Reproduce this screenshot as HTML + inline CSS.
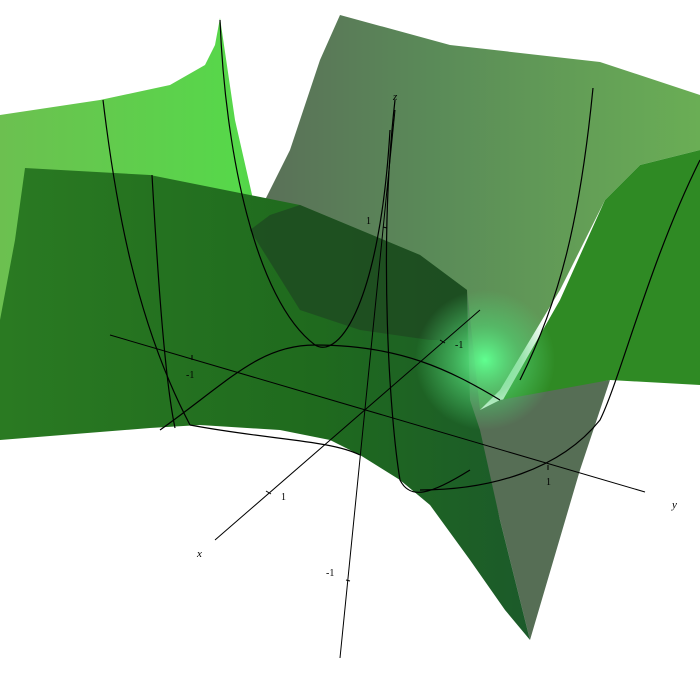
<!DOCTYPE html>
<html><head><meta charset="utf-8"><style>html,body{margin:0;padding:0;background:#fff}svg{display:block}</style></head>
<body>
<svg width="700" height="700" viewBox="0 0 700 700" style="font-family:'Liberation Serif',serif">
<defs>
<linearGradient id="gl" x1="0" y1="0" x2="1" y2="0"><stop offset="0" stop-color="#6cc050"/><stop offset="0.8" stop-color="#56d84a"/><stop offset="1" stop-color="#40c040"/></linearGradient>
<linearGradient id="gg" x1="0" y1="0" x2="1" y2="0"><stop offset="0" stop-color="#5a6e58"/><stop offset="0.4" stop-color="#5a8a58"/><stop offset="1" stop-color="#6aae55"/></linearGradient>
<linearGradient id="gf" x1="0" y1="0" x2="1" y2="0"><stop offset="0" stop-color="#2a7a22"/><stop offset="0.6" stop-color="#1f6a1e"/><stop offset="1" stop-color="#1c5a2a"/></linearGradient>
<radialGradient id="glow" cx="485" cy="360" r="70" gradientUnits="userSpaceOnUse"><stop offset="0" stop-color="#60ff90"/><stop offset="0.5" stop-color="#50d070" stop-opacity="0.6"/><stop offset="1" stop-color="#50d070" stop-opacity="0"/></radialGradient>
</defs>
<polygon fill="url(#gl)" points="0,115 100,100 170,85 205,65 215,45 220,18 235,120 260,230 300,310 0,320"/>
<polygon fill="url(#gg)" points="340,15 450,45 600,62 700,95 700,150 640,165 605,200 560,290 500,390 480,410 250,230 290,150 320,60"/>
<polygon fill="#2f8a24" points="605,200 640,165 700,150 700,385 610,380 500,405 560,300"/>
<polygon fill="#566e55" points="467,290 480,410 500,400 610,380 580,470 530,640 500,520 470,400"/>
<polygon fill="url(#gf)" points="25,168 150,175 300,205 420,255 467,290 470,400 480,430 500,520 530,640 505,610 470,560 430,505 400,480 360,455 330,440 280,430 200,425 150,428 0,440 0,320 15,240"/>
<polygon fill="#1e4a20" opacity="0.8" points="250,230 270,215 300,205 420,255 467,290 467,340 430,340 360,330 300,310"/>
<circle cx="485" cy="360" r="70" fill="url(#glow)"/>
<g fill="none" stroke="#000" stroke-width="1.2">
<path d="M103,100 C115,200 135,320 190,425"/>
<path d="M152,175 C158,280 165,380 175,428"/>
<path d="M220,20 C225,150 255,300 315,345 C340,360 380,300 390,130"/>
<path d="M395,100 C378,250 390,420 400,480 C410,500 430,495 470,470"/>
<path d="M593,88 C580,220 560,300 520,380"/>
<path d="M700,160 C650,260 620,380 600,420 C560,470 490,490 420,490"/>
<path d="M160,430 C230,380 260,345 315,345 C400,345 450,370 500,400"/>
<path d="M190,425 C270,440 330,440 360,455"/>
</g>
<g stroke="#000" stroke-width="1">
<line x1="110" y1="335" x2="645" y2="492"/>
<line x1="215" y1="540" x2="480" y2="310"/>
<line x1="395" y1="110" x2="340" y2="658"/>
<line x1="192" y1="355" x2="192" y2="360"/><line x1="548" y1="465" x2="548" y2="470"/>
<line x1="266" y1="491" x2="271" y2="494"/><line x1="440" y1="340" x2="445" y2="343"/>
<line x1="383" y1="227" x2="387" y2="228"/><line x1="346" y1="580" x2="350" y2="581"/>
</g>
<g font-size="10" fill="#000">
<text x="186" y="378">-1</text><text x="546" y="485">1</text>
<text x="281" y="500">1</text><text x="455" y="348">-1</text>
<text x="366" y="224">1</text><text x="326" y="576">-1</text>
</g>
<g font-size="11" font-style="italic" fill="#000">
<text x="672" y="508">y</text>
<text x="197" y="557">x</text>
<text x="393" y="100">z</text>
</g>
</svg>
</body></html>
